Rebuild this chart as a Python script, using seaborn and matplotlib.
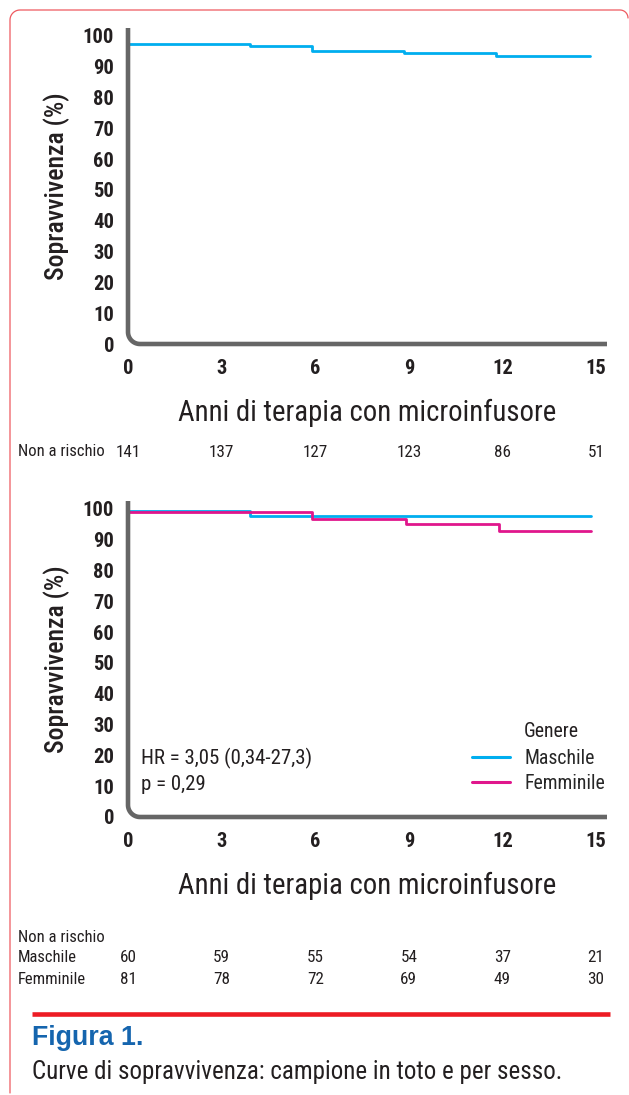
import numpy as np
import pandas as pd
import matplotlib
matplotlib.use("Agg")
import matplotlib.pyplot as plt
from matplotlib.lines import Line2D
import seaborn as sns

sns.set_theme(style="white")
plt.rcParams['font.family'] = ['Roboto Condensed', 'Liberation Sans', 'DejaVu Sans']

# values
years_all = [0, 3.9, 5.9, 8.85, 11.8, 14.8]
surv_all = [97.3, 96.6, 95.2, 94.4, 93.3, 93.3]

years_m = [0, 3.9, 14.85]
surv_m = [99.1, 97.5, 97.5]
years_f = [0, 5.9, 8.9, 11.9, 14.85]
surv_f = [98.8, 96.5, 95.0, 92.9, 92.9]

x_ticks = [0, 3, 6, 9, 12, 15]
y_ticks = [0, 10, 20, 30, 40, 50, 60, 70, 80, 90, 100]
risk_all = [141, 137, 127, 123, 86, 51]
risk_m = [60, 59, 55, 54, 37, 21]
risk_f = [81, 78, 72, 69, 49, 30]

BLUE = "#00aeef"
PINK = "#e0168c"
GREY = "#666666"
RED = "#ed1c24"
INK = "#231f20"

W, H = 629, 1095
fig = plt.figure(figsize=(W / 100, H / 100), dpi=100)


def px(x, y):
    return x / W, 1 - y / H


def axes_at(left, top, right, bottom):
    return fig.add_axes([left / W, 1 - bottom / H, (right - left) / W, (bottom - top) / H])


def style_axes(ax):
    ax.set_xlim(0, 15.35)
    ax.set_ylim(0, 102.5)
    ax.set_xticks(x_ticks)
    ax.set_yticks(y_ticks)
    for s in ax.spines.values():
        s.set_visible(False)
    ax.tick_params(length=0, labelsize=14.8, pad=10, colors=INK)
    ax.tick_params(axis="x", pad=11)
    for lab in ax.get_xticklabels() + ax.get_yticklabels():
        lab.set_fontweight("bold")
    ax.set_ylabel("Sopravvivenza (%)", fontsize=18.5, fontweight="medium", color=INK, labelpad=9)
    ax.set_xlabel("Anni di terapia con microinfusore", fontsize=20.7, color=INK, labelpad=15)
    ax.grid(False)
    # rounded L-shaped axis line
    bb = ax.get_position()
    aw, ah = bb.width * W, bb.height * H
    r = 12
    t = np.linspace(np.pi, 1.5 * np.pi, 20)
    cx, cy = r / aw, r / ah
    xs = np.concatenate([[0], cx + cx * np.cos(t), [1]])
    ys = np.concatenate([[1], cy + cy * np.sin(t), [0]])
    ax.add_line(Line2D(xs, ys, transform=ax.transAxes, color=GREY, lw=3.3,
                       clip_on=False, solid_capstyle="butt", zorder=5))


# top panel: whole sample
ax1 = axes_at(128, 28, 607, 344)
sns.lineplot(x=years_all, y=surv_all, ax=ax1, color=BLUE, lw=2,
             drawstyle="steps-post", errorbar=None)
style_axes(ax1)
tr1 = ax1.get_xaxis_transform()
for xv, n in zip(x_ticks, risk_all):
    ax1.text(xv, -0.342, str(n), transform=tr1, ha="center", va="center",
             fontsize=12.3, color=INK)
fig.text(*px(18, 452), "Non a rischio", ha="left", va="center", fontsize=12, color=INK)

# bottom panel: by sex
df = pd.DataFrame({
    "anni": years_m + years_f,
    "surv": surv_m + surv_f,
    "Genere": ["Maschile"] * len(years_m) + ["Femminile"] * len(years_f),
})
ax2 = axes_at(128, 501, 607, 817)
sns.lineplot(data=df, x="anni", y="surv", hue="Genere", ax=ax2,
             palette={"Maschile": BLUE, "Femminile": PINK}, lw=2,
             drawstyle="steps-post", errorbar=None, estimator=None)
style_axes(ax2)
sns.move_legend(ax2, "upper left", bbox_to_anchor=(0.718, 0.215), title=None,
                frameon=False, fontsize=14.2, handlelength=1.95, handletextpad=0.72,
                labelspacing=0.32, borderpad=0, borderaxespad=0)
for h in ax2.get_legend().legend_handles:
    h.set_linewidth(2.2)
ax2.text(0.827, 0.272, "Genere", transform=ax2.transAxes, ha="left", va="center",
         fontsize=14.2, color=INK)
ax2.text(0.027, 0.184, "HR = 3,05 (0,34-27,3)", transform=ax2.transAxes,
         ha="left", va="center", fontsize=15, color=INK)
ax2.text(0.027, 0.104, "p = 0,29", transform=ax2.transAxes,
         ha="left", va="center", fontsize=15, color=INK)

tr2 = ax2.get_xaxis_transform()
for xv, nm, nf in zip(x_ticks, risk_m, risk_f):
    ax2.text(xv, -0.446, str(nm), transform=tr2, ha="center", va="center",
             fontsize=12.3, color=INK)
    ax2.text(xv, -0.513, str(nf), transform=tr2, ha="center", va="center",
             fontsize=12.3, color=INK)
fig.text(*px(18, 937), "Non a rischio", ha="left", va="center", fontsize=12, color=INK)
fig.text(*px(18, 958), "Maschile", ha="left", va="center", fontsize=12, color=INK)
fig.text(*px(18, 979), "Femminile", ha="left", va="center", fontsize=12, color=INK)

# caption block
fig.add_artist(Line2D([32 / W, 610 / W], [1 - 1014 / H] * 2, transform=fig.transFigure,
                      color=RED, lw=3.3, solid_capstyle="butt"))
fig.text(*px(32, 1038), "Figura 1.", ha="left", va="center", fontsize=19.3,
         fontweight="bold", color="#1565ae", family=["Liberation Sans", "DejaVu Sans"])
fig.text(*px(32, 1072), "Curve di sopravvivenza: campione in toto e per sesso.",
         ha="left", va="center", fontsize=18, color=INK)

# thin red frame, rounded top corners
r = 10
a = np.linspace(0, np.pi / 2, 12)
fx = np.concatenate([[10], 10 + r - r * np.cos(a), [620], 620 + 8 * np.sin(a)])
fy = np.concatenate([[1093], 10 + r - r * np.sin(a), [10], 10 + 8 - 8 * np.cos(a)])
fig.add_artist(Line2D(fx / W, 1 - fy / H, transform=fig.transFigure,
                      color="#ee5a60", lw=0.9))

fig.savefig("out.png", dpi=100)
